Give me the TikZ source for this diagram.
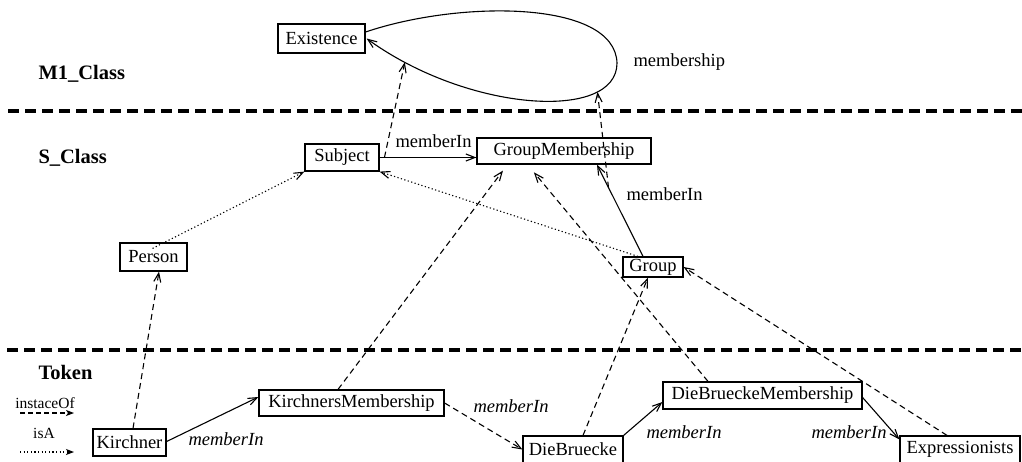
\documentclass[tikz,border=0pt]{standalone}
\usepackage{fontspec}
\setmainfont{Liberation Serif}
\usetikzlibrary{arrows.meta,calc}

\begin{document}
\begin{tikzpicture}[x=1pt,y=-1pt,
  every node/.style={font=\fontsize{18.5}{22}\selectfont},
  box/.style={draw,line width=1.2pt,inner sep=0pt},
  layer/.style={font=\fontsize{20.5}{24}\selectfont\bfseries,anchor=base west},
  lbl/.style={anchor=base west},
  ilbl/.style={anchor=base west,font=\fontsize{18.5}{22}\selectfont\itshape},
  conn/.style={line width=1.1pt,-{Straight Barb[length=9pt,width=7pt]}},
  inst/.style={conn,dash pattern=on 6pt off 4pt},
  isa/.style={conn,dash pattern=on 1.2pt off 2.4pt},
  sep/.style={line width=3.5pt,dash pattern=on 11pt off 6pt},
  legend/.style={font=\fontsize{15.5}{18}\selectfont,anchor=base},
  legarrow/.style={line width=1.1pt,-{Stealth[length=8pt,width=6pt,inset=2pt]}}]

\useasboundingbox (0,0) rectangle (1022,461);

% layer separators
\draw[sep] (8,111) -- (1022,111);
\draw[sep] (7,350) -- (1022,350);

% layer titles
\node[layer] (tM1) at (35,79) {M1\_Class};
\node[layer] (tS)  at (35,163) {S\_Class};
\node[layer] (tT)  at (35,379) {Token};

% objects
\node[box,minimum width=87pt,minimum height=29pt]  (Existence) at (321.5,38.5) {Existence};
\node[box,minimum width=74pt,minimum height=27pt]  (Subject) at (342,157.5) {Subject};
\node[box,minimum width=174pt,minimum height=26pt] (GroupMembership) at (564,151) {GroupMembership};
\node[box,minimum width=60pt,minimum height=20pt]  (Group) at (653,267) {Group};
\node[box,minimum width=67pt,minimum height=28pt]  (Person) at (153.5,257) {Person};
\node[box,minimum width=73pt,minimum height=27pt]  (Kirchner) at (129.5,442.5) {Kirchner};
\node[box,minimum width=185pt,minimum height=26pt] (KMember) at (351.5,403) {KirchnersMembership};
\node[box,minimum width=100pt,minimum height=27pt] (DieBruecke) at (573,449.5) {DieBruecke};
\node[box,minimum width=199pt,minimum height=27pt] (DBMember) at (762.5,395.5) {DieBrueckeMembership};
\node[box,minimum width=120pt,minimum height=27pt] (Expressionists) at (960,449.5) {Expressionists};

% membership loop on Existence
\draw[conn] ($(Existence.east)+(0,-6.5)$) .. controls (460,0) and (615,0) .. (617,63)
  .. controls (617,122) and (468,112) .. ($(Existence.east)+(1,0)$)
  coordinate[pos=0.88] (mA) coordinate[pos=0.22] (mB);
\node[lbl] (lMembership) at (630,66) {membership};

% memberIn links between classes
\draw[conn] (Subject.east) -- (Subject.east -| GroupMembership.west) coordinate[pos=0.05] (sl);
\node[lbl] (lSub) at (392,147) {memberIn};
\draw[conn] ($(Group.north)+(-10,0)$) -- ($(GroupMembership.south)+(33,0)$) coordinate[pos=0.75] (gl);
\node[lbl] (lGrp) at (623,200) {memberIn};

% links are instances of membership
\draw[inst] (sl) -- (mA);
\draw[inst] (gl) -- (mB);

% isA
\draw[isa] ($(Person.north)+(-1,6)$) -- (Subject.south west);
\draw[isa] ($(Group.north)+(-15,0)$) -- (Subject.south east);

% token links
\draw[conn] ($(Kirchner.east)+(0,-1)$) -- ($(KMember.west)+(0,-6)$);
\node[ilbl] (lK) at (185,445) {memberIn};
\draw[inst] (KMember.east) -- (DieBruecke.west);
\node[ilbl] (lKM) at (470,412) {memberIn};
\draw[conn] (DieBruecke.north east) -- ($(DBMember.west)+(0,6.5)$);
\node[ilbl] (lDB) at (643,438) {memberIn};
\draw[conn] ($(DBMember.east)+(0,2)$) -- ($(Expressionists.north west)+(0,4)$);
\node[ilbl] (lDBM) at (808,438) {memberIn};

% instanceOf
\draw[inst] ($(Kirchner.north)+(3.5,0)$) -- ($(Person.south)+(5.5,0)$);
\draw[inst,shorten >=7.5pt] ($(KMember.north)+(-13.5,0)$) -- ($(GroupMembership.south)+(-56.5,0)$);
\draw[inst,shorten >=10pt] ($(DBMember.north)+(-54.5,0)$) -- ($(GroupMembership.south)+(-36.5,0)$);
\draw[inst] ($(DieBruecke.north)+(10,0)$) -- ($(Group.south)+(-5,0)$);
\draw[inst] ($(Expressionists.north)+(-13,0)$) -- (Group.east);

% legend
\node[legend] (legI) at (45,408) {instaceOf};
\coordinate (legI1) at (20,413);
\coordinate (legI2) at (74,413);
\draw[legarrow,dash pattern=on 5pt off 3pt] (legI1) -- (legI2);
\node[legend] (legA) at (44,438) {isA};
\coordinate (legA1) at (20,452);
\coordinate (legA2) at (74,452);
\draw[legarrow,dash pattern=on 1.2pt off 2.4pt] (legA1) -- (legA2);
\end{tikzpicture}
\end{document}
